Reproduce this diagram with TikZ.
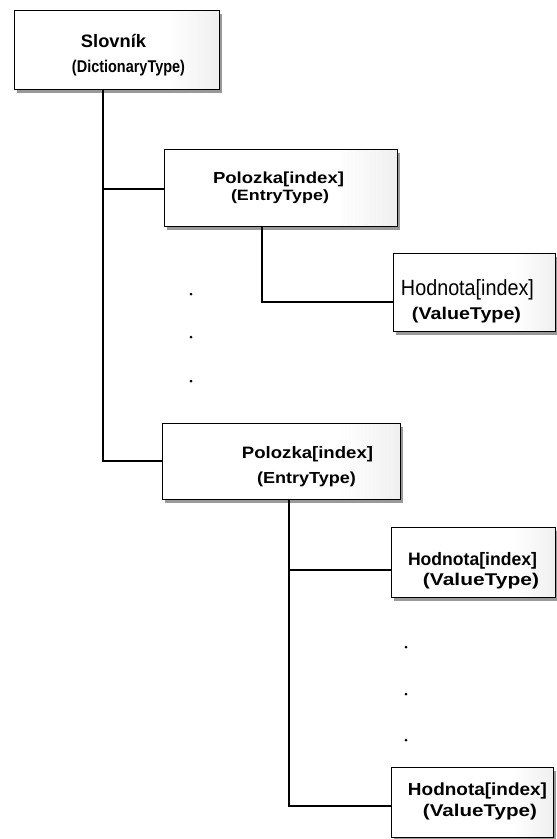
\documentclass[tikz,border=0pt]{standalone}
\usepackage{fontspec}
\setmainfont{Liberation Sans}
\usepackage{graphicx}
\usetikzlibrary{shadows}

% white box fill that greys out towards the right edge
\pgfdeclarehorizontalshading{boxfade}{100bp}{color(0bp)=(white); color(62bp)=(white); color(100bp)=(black!18)}

% one line of bold text at a given size, stretched to a given width
\newcommand{\fitline}[3]{{\fontsize{#1}{#1}\selectfont\bfseries\resizebox{#2pt}{\height}{#3}}}
% the same in regular weight
\newcommand{\fitlinereg}[3]{{\fontsize{#1}{#1}\selectfont\resizebox{#2pt}{\height}{#3}}}

\begin{document}
\begin{tikzpicture}[x=1pt,y=1pt,
  box/.style={draw=black, line width=1.4pt, rectangle, anchor=north west, inner sep=0pt,
    shade, shading=boxfade,
    general shadow={fill=black!40, shadow xshift=2pt, shadow yshift=-3pt}},
  wire/.style={draw=black, line width=1.3pt},
  txt/.style={anchor=base, inner sep=0pt},
  dot/.style={circle, fill=black, inner sep=0pt, minimum size=3pt}]

\useasboundingbox[fill=white] (0,0) rectangle (557,-839);

% boxes
\node[box, minimum width=205, minimum height=79] (b1) at (14,-10) {};
\node[box, minimum width=233, minimum height=77] (b2) at (164,-149) {};
\node[box, minimum width=162, minimum height=78] (b3) at (393,-253) {};
\node[box, minimum width=238, minimum height=76] (b4) at (162,-423) {};
\node[box, minimum width=164, minimum height=70] (b5) at (391,-527) {};
\node[box, minimum width=162, minimum height=70] (b6) at (391,-767) {};

% box texts
\node[txt] (t1a) at (113.5,-47) {\fitline{18}{65}{Slovník}};
\node[txt] (t1b) at (128.5,-72) {\fitline{17}{113}{(DictionaryType)}};
\node[txt] (t2a) at (278.5,-183) {\fitline{16}{131}{Polozka[index]}};
\node[txt] (t2b) at (280,-200) {\fitline{15}{98}{(EntryType)}};
\node[txt] (t3a) at (467.5,-295) {\fitlinereg{22}{133}{Hodnota[index]}};
\node[txt] (t3b) at (466.5,-319) {\fitline{17}{109}{(ValueType)}};
\node[txt] (t4a) at (307.5,-458) {\fitline{16.5}{131}{Polozka[index]}};
\node[txt] (t4b) at (306.5,-483) {\fitline{16}{99}{(EntryType)}};
\node[txt] (t5a) at (472.5,-565) {\fitline{18}{129}{Hodnota[index]}};
\node[txt] (t5b) at (481,-585) {\fitline{17}{116}{(ValueType)}};
\node[txt] (t6a) at (477.5,-795) {\fitline{17.5}{139}{Hodnota[index]}};
\node[txt] (t6b) at (480,-816) {\fitline{17}{114}{(ValueType)}};

% junction points of the tree lines
\coordinate (j1) at (103,-189);
\coordinate (j2) at (103,-461);
\coordinate (j3) at (262,-302);
\coordinate (j4) at (289,-570);
\coordinate (j5) at (289,-806);

% connectors
\draw[wire] (b1.south -| j1) -- (j2) -- (b4.west |- j2);
\draw[wire] (j1) -- (b2.west |- j1);
\draw[wire] (b2.south -| j3) |- (b3.west |- j3);
\draw[wire] (b4.south -| j4) -- (j5) -- (b6.west |- j5);
\draw[wire] (j4) -- (b5.west |- j4);

% ellipsis dots
\node[dot] (d1) at (191,-294) {};
\node[dot] (d2) at (191,-337) {};
\node[dot] (d3) at (191,-381) {};
\node[dot] (d4) at (406,-647) {};
\node[dot] (d5) at (406,-694) {};
\node[dot] (d6) at (406,-740) {};

\end{tikzpicture}
\end{document}
